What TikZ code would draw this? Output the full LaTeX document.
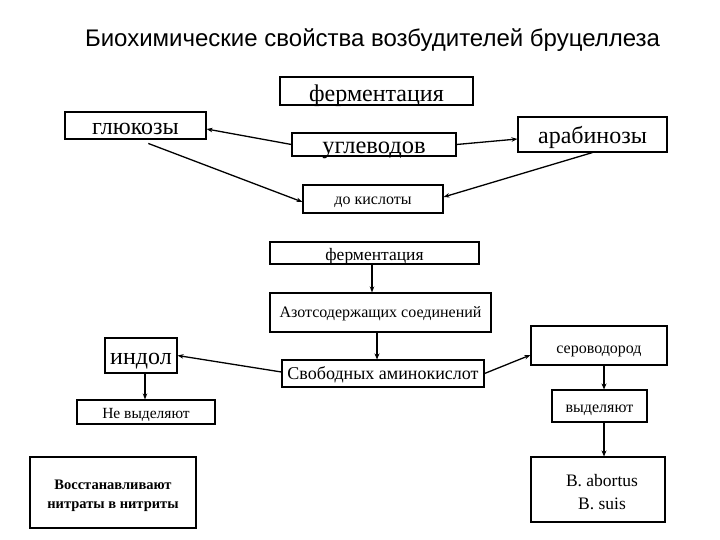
\documentclass[tikz,border=0pt]{standalone}
\usepackage{fontspec}
\setmainfont{Liberation Serif}
\newfontfamily\titlefont{Liberation Sans}
\usetikzlibrary{arrows.meta,calc}

% centre the x-height of a label in its box, then drop it a little
\newcommand{\boxtext}[2][3pt]{\smash{\raisebox{-#1}{#2}}\vphantom{x}}

\tikzset{
    box/.style={draw, line width=1.1pt, inner sep=0pt},
    arr/.style={-{Stealth[length=6pt,width=4.5pt]}, line width=1.3pt},
    bigarr/.style={-{Stealth[length=6pt,width=5pt]}, line width=2pt}
}

\begin{document}
\begin{tikzpicture}[x=1pt,y=-1pt]
    \useasboundingbox[fill=white] (0,0) rectangle (720,540);
    % title
    \node[anchor=base, font=\titlefont\fontsize{24}{28}\selectfont] (title) at (372.5,47) {Биохимические свойства возбудителей бруцеллеза};

    % carbohydrates
    \node[box, minimum width=193pt, minimum height=28pt, font=\fontsize{24}{26}\selectfont] (fer1) at (376.5,91) {\boxtext[5pt]{ферментация}};
    \node[box, minimum width=141pt, minimum height=27pt, font=\fontsize{24}{26}\selectfont] (gluc) at (135.5,125.5) {\boxtext[3.5pt]{глюкозы}};
    \node[box, minimum width=164pt, minimum height=23pt, font=\fontsize{24.5}{26}\selectfont] (ugl) at (374,144.5) {\boxtext{углеводов}};
    \node[box, minimum width=149pt, minimum height=35pt, font=\fontsize{24}{26}\selectfont] (arab) at (592.5,134.5) {\boxtext{арабинозы}};
    \node[box, minimum width=140pt, minimum height=28pt, font=\fontsize{16}{18}\selectfont] (kisl) at (373,199) {\boxtext[2pt]{до кислоты}};

    % nitrogen compounds
    \node[box, minimum width=209pt, minimum height=22pt, font=\fontsize{17.5}{19}\selectfont] (fer2) at (374.5,253) {\boxtext{ферментация}};
    \node[box, minimum width=221pt, minimum height=39pt, font=\fontsize{16}{18}\selectfont] (azot) at (380.5,312.5) {\boxtext[1.5pt]{Азотсодержащих соединений}};
    \node[box, minimum width=202pt, minimum height=27pt, font=\fontsize{18}{20}\selectfont] (svob) at (383,373.5) {\boxtext[1.5pt]{Свободных аминокислот}};

    % left branch
    \node[box, minimum width=72pt, minimum height=35pt, font=\fontsize{24}{26}\selectfont] (indol) at (141,355.5) {\boxtext[3.5pt]{индол}};
    \node[box, minimum width=138pt, minimum height=24pt, font=\fontsize{15.5}{17}\selectfont] (nevyd) at (146,412) {\boxtext{Не выделяют}};
    \node[box, minimum width=166pt, minimum height=71pt, font=\bfseries\fontsize{14.5}{18.5}\selectfont] (nitr) at (113,492.5) {\boxtext{\begin{tabular}{@{}c@{}}Восстанавливают\\нитраты в нитриты\end{tabular}}};

    % right branch
    \node[box, minimum width=136pt, minimum height=39pt, font=\fontsize{16}{18}\selectfont] (serov) at (599,345.5) {\boxtext[4.5pt]{сероводород}};
    \node[box, minimum width=95pt, minimum height=32pt, font=\fontsize{16}{18}\selectfont] (vyd) at (599.5,406) {\boxtext[2.5pt]{выделяют}};
    \node[box, minimum width=134pt, minimum height=65pt, font=\fontsize{17.5}{23}\selectfont] (brc) at (598,489.5) {\hspace*{8pt}\boxtext[4pt]{\begin{tabular}{@{}c@{}}B. abortus\\B. suis\end{tabular}}};

    \draw[arr] (ugl.west) -- ([yshift=-3.5pt]gluc.east);
    \draw[arr] (ugl.east) -- ([yshift=-4.5pt]arab.west);
    \draw[arr, shorten <=11pt] ([xshift=2.5pt]gluc.south) -- ([yshift=-3pt]kisl.west);
    \draw[arr] (arab.south) -- ([yshift=2pt]kisl.east);
    \draw[arr] ([xshift=-2.5pt]fer2.south) -- ([xshift=-2.5pt]fer2.south |- azot.north);
    \draw[bigarr] ([xshift=-3.5pt]azot.south) -- ([xshift=-3.5pt]azot.south |- svob.north);
    \draw[arr] ([yshift=1.5pt]svob.west) -- (indol.east);
    \draw[arr] (svob.east) -- ([yshift=-9.5pt]serov.west);
    \draw[arr] ([xshift=4pt]indol.south) -- ([xshift=4pt]indol.south |- nevyd.north);
    \draw[bigarr] ([xshift=5pt]serov.south) -- ([xshift=5pt]serov.south |- vyd.north);
    \draw[bigarr] ([xshift=4.5pt]vyd.south) -- ([xshift=4.5pt]vyd.south |- brc.north);
\end{tikzpicture}
\end{document}
